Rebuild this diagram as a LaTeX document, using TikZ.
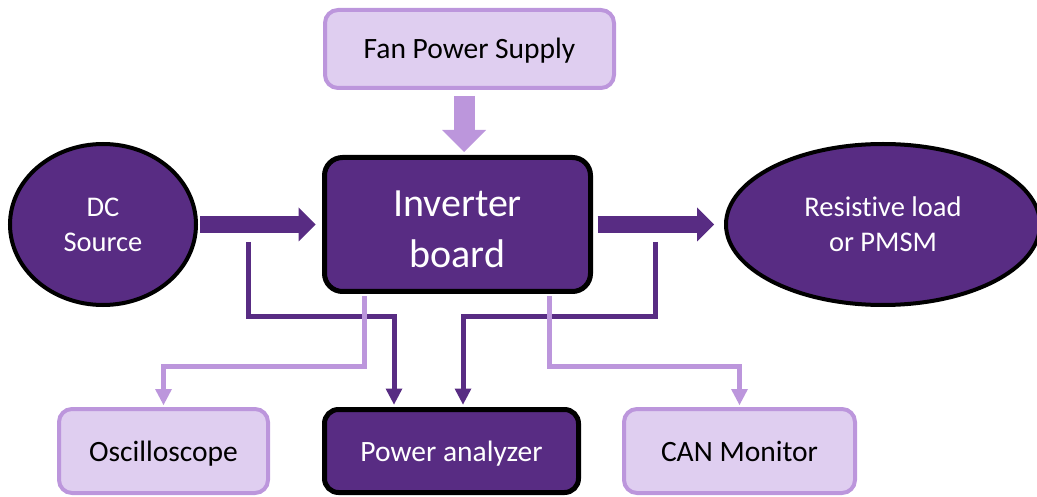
\documentclass[tikz,border=0pt]{standalone}
\usepackage{fontspec}
\setmainfont{Carlito}[Ligatures={NoCommon}]
\usetikzlibrary{arrows.meta,shapes.geometric}

\definecolor{deeppurple}{RGB}{88,44,131}
\definecolor{palefill}{RGB}{223,206,240}
\definecolor{paleedge}{RGB}{188,150,220}

\begin{document}
\begin{tikzpicture}[x=1pt,y=-1pt,
  boxfont/.style={font=\fontsize{29.5}{35}\selectfont, text height=20pt, text depth=0pt},
  lightbox/.style={draw=paleedge, fill=palefill, line width=4pt, rounded corners=13pt,
    inner sep=0pt, text=black, boxfont},
  darkbox/.style={draw=black, fill=deeppurple, line width=5pt, rounded corners=14pt,
    inner sep=0pt, text=white},
  darkoval/.style={ellipse, draw=black, fill=deeppurple, line width=4pt, inner sep=0pt,
    text=white, align=center, font=\fontsize{28.5}{35}\selectfont},
  powerflow/.style={draw=deeppurple, line width=17pt,
    -{Triangle[length=17pt,width=34pt,line width=0pt]}},
  fanflow/.style={draw=paleedge, line width=21pt,
    -{Triangle[length=22pt,width=44pt,line width=0pt]}},
  measureline/.style={draw=deeppurple, line width=5pt,
    -{Triangle[length=16pt,width=17pt,line width=0pt]}},
  signalline/.style={draw=paleedge, line width=5pt,
    -{Triangle[length=16pt,width=17pt,line width=0pt]}}]

\useasboundingbox (0,0) rectangle (1037,497);

% blocks
\node[lightbox, minimum width=289pt, minimum height=78pt] (fan) at (469.5,49) {Fan Power Supply};
\node[darkbox, rounded corners=18pt, minimum width=266pt, minimum height=134pt,
      align=center, font=\fontsize{40}{51}\selectfont]
      (inv) at (457.5,224.5) {\rule{0pt}{36pt}Inverter\\board};
\node[darkoval, minimum width=186pt, minimum height=161pt] (dc) at (103,224.5) {DC\\Source};
\node[darkoval, minimum width=314pt, minimum height=161pt] (load) at (883,224.5) {Resistive load\\or PMSM};
\node[lightbox, minimum width=209pt, minimum height=84pt] (osc) at (163.5,451) {Oscilloscope};
\node[darkbox, boxfont, minimum width=254pt, minimum height=83pt] (pa) at (451.5,451) {Power analyzer};
\node[lightbox, minimum width=231pt, minimum height=84pt] (can) at (739.5,451) {CAN Monitor};

% helper points for the routed connectors
\coordinate (fanx) at (464,0);
\coordinate (d1) at (248,242);
\coordinate (pax1) at (394,317);
\coordinate (d2) at (655,242);
\coordinate (pax2) at (463,317);
\coordinate (o1) at (364,0);
\coordinate (o2) at (549,0);
\coordinate (lbend) at (0,366);

% power flow
\draw[powerflow, shorten <=2pt, shorten >=6.5pt] (dc.east) -- (inv.west);
\draw[powerflow, shorten <=4.5pt, shorten >=10pt] (inv.east) -- (load.west);
\draw[fanflow, shorten <=6pt, shorten >=3pt] (fan.south -| fanx) -- (inv.north -| fanx);

% voltage / current measurement taps
\draw[measureline, shorten >=2.5pt] (d1) |- (pax1) -- (pa.north -| pax1);
\draw[measureline, shorten >=2.5pt] (d2) |- (pax2) -- (pa.north -| pax2);

% signal outputs of the board
\draw[signalline, shorten <=2.5pt, shorten >=2pt] (inv.south -| o1) |- (lbend -| osc.north) -- (osc.north);
\draw[signalline, shorten <=2.5pt, shorten >=2pt] (inv.south -| o2) |- (lbend -| can.north) -- (can.north);

\end{tikzpicture}
\end{document}
